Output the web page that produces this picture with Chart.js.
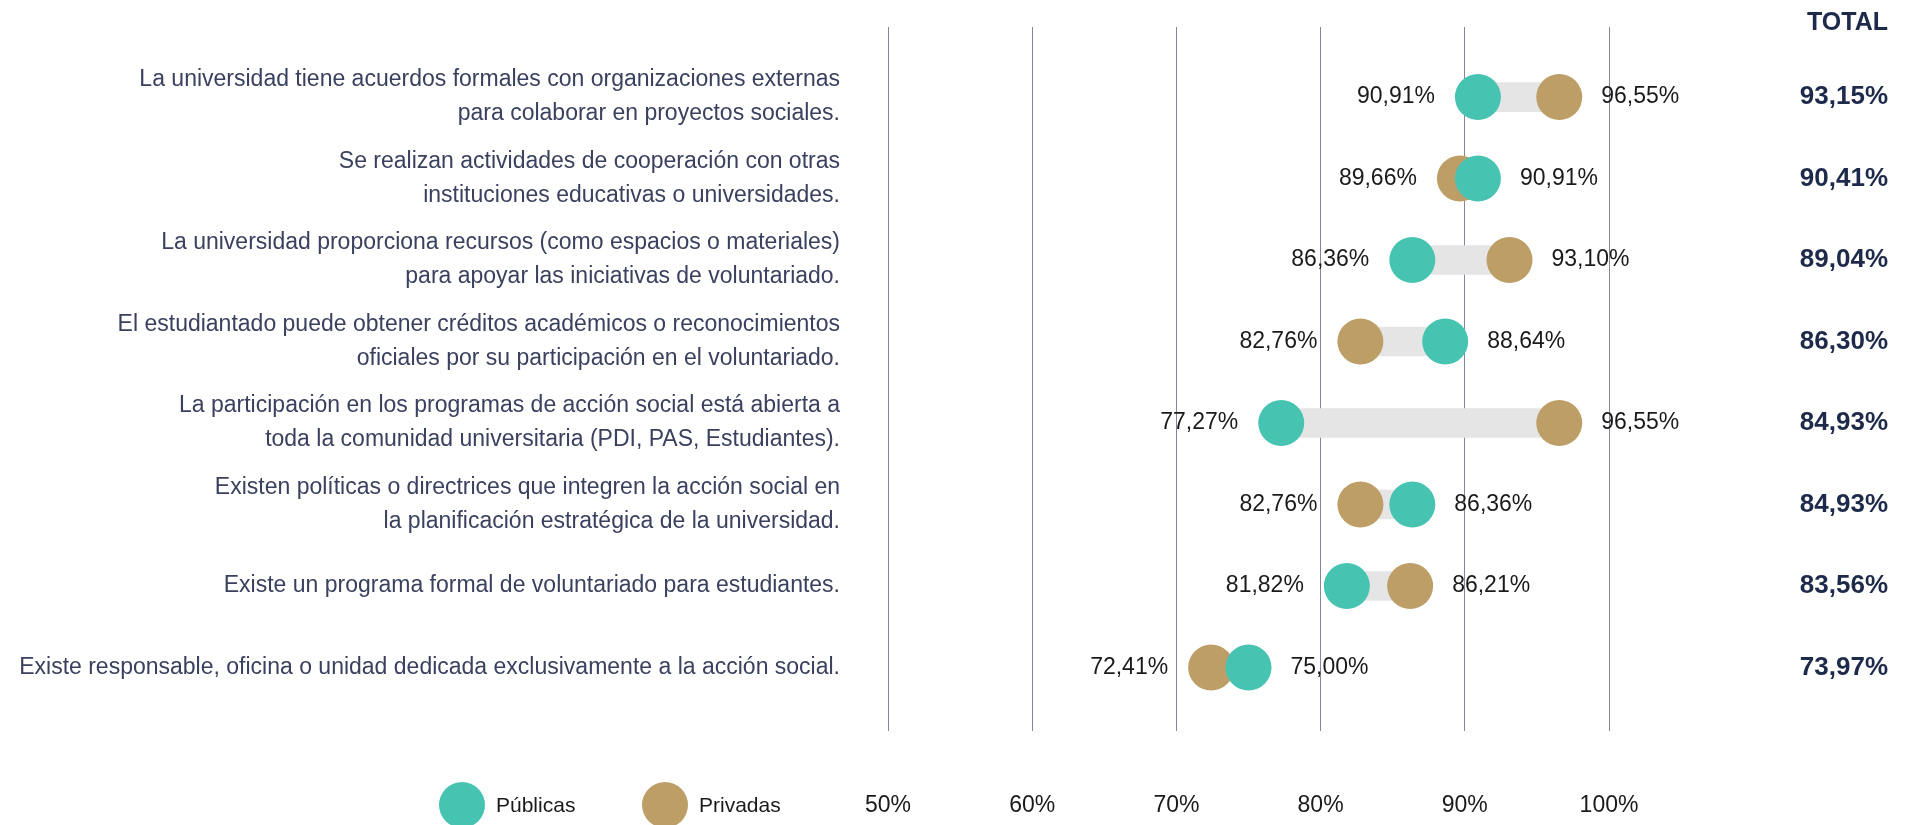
<!DOCTYPE html>
<html lang="es">
<head>
<meta charset="utf-8">
<title>Acción social y voluntariado</title>
<script src="https://cdn.jsdelivr.net/npm/chart.js@4.4.1/dist/chart.umd.min.js"></script>
<style>
  html, body { margin: 0; padding: 0; background: #fff; }
  #wrap { position: relative; width: 1910px; height: 825px; }
  #legend { position: absolute; left: 0; top: 782px; height: 46px; width: 900px;
            font-family: "Helvetica Neue", "Liberation Sans", Arial, sans-serif; font-size: 21px; color: #1a1a1a; }
  #legend .item { position: absolute; top: 0; height: 46px; display: flex; align-items: center; }
  #legend .dot { width: 46px; height: 46px; border-radius: 50%; margin-right: 11px; }
</style>
</head>
<body>
<div id="wrap">
  <canvas id="chart"></canvas>
  <div id="legend"></div>
</div>
<script>
// --- DATOS ---
const categories = [
    ['La universidad tiene acuerdos formales con organizaciones externas', 'para colaborar en proyectos sociales.'],
    ['Se realizan actividades de cooperación con otras', 'instituciones educativas o universidades.'],
    ['La universidad proporciona recursos (como espacios o materiales)', 'para apoyar las iniciativas de voluntariado.'],
    ['El estudiantado puede obtener créditos académicos o reconocimientos', 'oficiales por su participación en el voluntariado.'],
    ['La participación en los programas de acción social está abierta a', 'toda la comunidad universitaria (PDI, PAS, Estudiantes).'],
    ['Existen políticas o directrices que integren la acción social en', 'la planificación estratégica de la universidad.'],
    'Existe un programa formal de voluntariado para estudiantes.',
    'Existe responsable, oficina o unidad dedicada exclusivamente a la acción social.'
];
const publicas = [90.91, 90.91, 86.36, 88.64, 77.27, 86.36, 81.82, 75.00];
const privadas = [96.55, 89.66, 93.10, 82.76, 96.55, 82.76, 86.21, 72.41];
const totales = [93.15, 90.41, 89.04, 86.30, 84.93, 84.93, 83.56, 73.97];
const xTicks = [50, 60, 70, 80, 90, 100];

const COLOR_PUB = '#47c3b2';
const COLOR_PRI = '#bd9e67';
const FONT = '"Helvetica Neue", "Liberation Sans", Arial, sans-serif';

// formato con coma decimal
const pct = v => v.toFixed(2).replace('.', ',') + '%';

Chart.defaults.font.family = FONT;

// pone un tick por cada fila
const rowTicks = scale => { scale.ticks = categories.map((_, i) => ({ value: i })); };

// ancho fijo y sin margenes extra por las etiquetas
const fixWidth = w => scale => {
    scale.width = w;
    scale.paddingTop = 0;
    scale.paddingBottom = 0;
};

// etiquetas de valor junto a cada punto
const valueLabels = {
    id: 'valueLabels',
    afterDatasetsDraw(chart) {
        const { ctx } = chart;
        const pubMeta = chart.getDatasetMeta(1);
        const priMeta = chart.getDatasetMeta(2);
        ctx.save();
        ctx.font = '23px ' + FONT;
        ctx.fillStyle = '#1a1a1a';
        ctx.textBaseline = 'middle';
        publicas.forEach((p, i) => {
            const a = pubMeta.data[i], b = priMeta.data[i];
            const pubLeft = p <= privadas[i];
            const lo = pubLeft ? a : b, hi = pubLeft ? b : a;
            const loVal = pubLeft ? p : privadas[i], hiVal = pubLeft ? privadas[i] : p;
            ctx.textAlign = 'right';
            ctx.fillText(pct(loVal), lo.x - 43, lo.y);
            ctx.textAlign = 'left';
            ctx.fillText(pct(hiVal), hi.x + 42, hi.y);
        });
        ctx.restore();
    }
};

const chart = new Chart(document.getElementById('chart'), {
    type: 'bar',
    data: {
        datasets: [{
            label: 'Rango',
            data: publicas.map((p, i) => ({ x: [Math.min(p, privadas[i]), Math.max(p, privadas[i])], y: i })),
            backgroundColor: '#e5e5e5',
            barThickness: 29,
            order: 3
        }, {
            type: 'scatter',
            label: 'Públicas',
            data: publicas.map((v, i) => ({ x: v, y: i })),
            backgroundColor: COLOR_PUB,
            borderWidth: 0,
            pointRadius: 23,
            pointHoverRadius: 23,
            order: 1
        }, {
            type: 'scatter',
            label: 'Privadas',
            data: privadas.map((v, i) => ({ x: v, y: i })),
            backgroundColor: COLOR_PRI,
            borderWidth: 0,
            pointRadius: 23,
            pointHoverRadius: 23,
            order: 2
        }]
    },
    options: {
        indexAxis: 'y',
        responsive: true,
        maintainAspectRatio: false,
        animation: false,
        layout: { padding: { left: 0, right: 22, top: 0, bottom: 0 } },
        scales: {
            x: {
                type: 'linear',
                min: 50, max: 100,
                afterBuildTicks: s => { s.ticks = xTicks.map(v => ({ value: v })); },
                afterFit: s => { s.height = 94; s.paddingLeft = 0; s.paddingRight = 0; },
                ticks: { maxRotation: 0, callback: v => v + '%', padding: 61, color: '#1a1a1a', font: { size: 23 } },
                grid: { color: '#85869b', lineWidth: 1, drawTicks: false },
                border: { display: false }
            },
            y: {
                type: 'linear',
                reverse: true,
                offset: false,
                min: -0.86, max: 7.78,
                afterBuildTicks: rowTicks,
                afterFit: fixWidth(888),
                ticks: {
                    autoSkip: false,
                    callback: v => categories[v],
                    padding: 40,
                    color: '#3a405e',
                    font: { size: 23, lineHeight: '34px' }
                },
                grid: { display: false },
                border: { display: false }
            },
            y2: {
                type: 'linear',
                position: 'right',
                reverse: true,
                offset: false,
                min: -0.86, max: 7.78,
                afterBuildTicks: rowTicks,
                afterFit: fixWidth(279),
                ticks: {
                    autoSkip: false,
                    callback: v => pct(totales[v]),
                    crossAlign: 'far',
                    padding: 0,
                    color: '#1e2a4a',
                    font: { size: 26, weight: 'bold' }
                },
                grid: { display: false },
                border: { display: false }
            }
        },
        plugins: {
            legend: { display: false },
            tooltip: { enabled: false },
            title: {
                display: true,
                text: 'TOTAL',
                align: 'end',
                color: '#1e2a4a',
                font: { size: 25, weight: 'bold', lineHeight: '8px' },
                padding: { top: 19, bottom: 0 }
            }
        }
    },
    plugins: [valueLabels]
});

// leyenda en HTML a partir de los datasets de puntos
const legendEl = document.getElementById('legend');
const legendX = [439, 642];
chart.data.datasets.slice(1).forEach((ds, k) => {
    const item = document.createElement('div');
    item.className = 'item';
    item.style.left = legendX[k] + 'px';
    const dot = document.createElement('span');
    dot.className = 'dot';
    dot.style.background = ds.backgroundColor;
    const txt = document.createElement('span');
    txt.textContent = ds.label;
    item.appendChild(dot);
    item.appendChild(txt);
    legendEl.appendChild(item);
});
</script>
</body>
</html>
